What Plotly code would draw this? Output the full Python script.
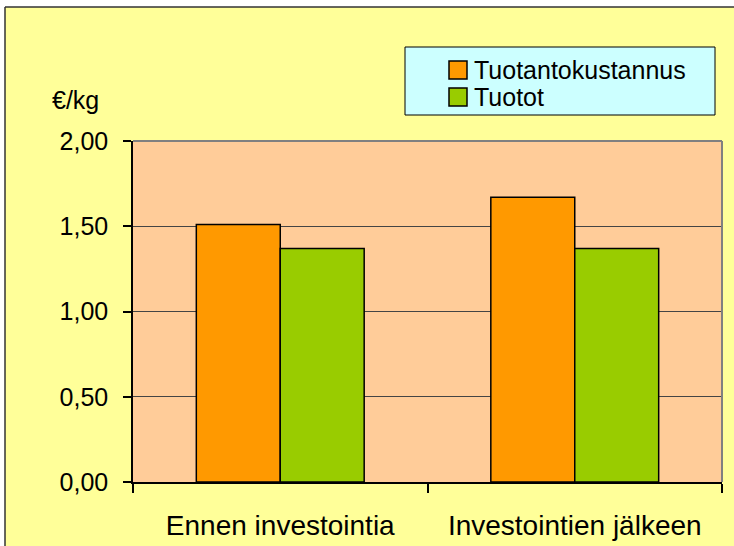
import plotly.graph_objects as go

categories = ["Ennen investointia", "Investointien jälkeen"]
series_names = ["Tuotantokustannus", "Tuotot"]
cost_values = [1.51, 1.67]
revenue_values = [1.37, 1.37]
y_tick_vals = [0, 0.5, 1.0, 1.5, 2.0]
y_tick_text = ["0,00", "0,50", "1,00", "1,50", "2,00"]
y_title = "€/kg"

colors = ["#FF9900", "#99CC00"]
FONT = "Liberation Sans, Arial, sans-serif"

W, H = 734, 546
L, R, T, B = 133, 12, 141, 64
pw, ph = W - L - R, H - T - B

def px_x(p):
    return (p - L) / pw

def px_y(p):
    return (H - B - p) / ph

fig = go.Figure()
for name, vals, col in zip(series_names, [cost_values, revenue_values], colors):
    fig.add_trace(go.Bar(x=categories, y=vals, name=name,
                         marker=dict(color=col, line=dict(color="black", width=1.5)),
                         showlegend=False))

shapes = [
    # white margin strips outside chart border
    dict(type="rect", xref="paper", yref="paper", x0=px_x(-5), x1=px_x(5), y0=px_y(560), y1=px_y(-5),
         fillcolor="white", line=dict(width=0), layer="below"),
    dict(type="rect", xref="paper", yref="paper", x0=px_x(-5), x1=px_x(740), y0=px_y(7), y1=px_y(-5),
         fillcolor="white", line=dict(width=0), layer="below"),
    dict(type="line", xref="paper", yref="paper", x0=px_x(5), x1=px_x(740), y0=px_y(7), y1=px_y(7),
         line=dict(color="#333333", width=1.5)),
    dict(type="line", xref="paper", yref="paper", x0=px_x(5), x1=px_x(5), y0=px_y(7), y1=px_y(560),
         line=dict(color="#333333", width=1.5)),
    # gray plot-area border (top and right)
    dict(type="line", xref="paper", yref="paper", x0=0, x1=1, y0=1, y1=1,
         line=dict(color="#808080", width=2)),
    dict(type="line", xref="paper", yref="paper", x0=1, x1=1, y0=0, y1=1,
         line=dict(color="#808080", width=2)),
    # legend box
    dict(type="rect", xref="paper", yref="paper", x0=px_x(405), x1=px_x(715), y0=px_y(115), y1=px_y(47),
         fillcolor="#CCFFFF", line=dict(color="black", width=1)),
]

annotations = [dict(text=y_title, xref="paper", yref="paper", x=px_x(50), y=px_y(100),
                    xanchor="left", yanchor="middle", showarrow=False,
                    font=dict(family=FONT, size=25, color="black"))]

# legend entries (symbol + label)
legend_rows = [70, 97]
for name, col, yc in zip(series_names, colors, legend_rows):
    shapes.append(dict(type="rect", xref="paper", yref="paper",
                       x0=px_x(449), x1=px_x(467), y0=px_y(yc + 9), y1=px_y(yc - 9),
                       fillcolor=col, line=dict(color="black", width=1.5)))
    annotations.append(dict(text=name, xref="paper", yref="paper", x=px_x(472), y=px_y(yc),
                            xanchor="left", yanchor="middle", showarrow=False,
                            font=dict(family=FONT, size=25, color="black")))

fig.update_layout(
    width=W, height=H,
    margin=dict(l=L, r=R, t=T, b=B, pad=0),
    paper_bgcolor="#FFFF99",
    plot_bgcolor="#FFCC99",
    barmode="group",
    bargap=0.43,
    bargroupgap=0,
    font=dict(family=FONT, size=22, color="black"),
    shapes=shapes,
    showlegend=False,
    annotations=annotations,
    xaxis=dict(showline=True, linecolor="black", linewidth=1.5, ticks="outside", ticklen=9,
               tickcolor="black", tickwidth=1.5, tickson="boundaries", showgrid=False,
               tickfont=dict(family=FONT, size=28), ticklabelstandoff=18, automargin=False),
    yaxis=dict(range=[0, 2], tickvals=y_tick_vals, ticktext=y_tick_text, showline=True,
               linecolor="black", linewidth=1.5, ticks="outside", ticklen=8, tickcolor="black",
               tickwidth=1.5, showgrid=True, gridcolor="#444444", gridwidth=1, zeroline=False,
               tickfont=dict(family=FONT, size=25), ticklabelstandoff=10, automargin=False),
)

fig.write_html("out.html", config={"displayModeBar": False},
               post_script="document.body.style.margin='0px';")
